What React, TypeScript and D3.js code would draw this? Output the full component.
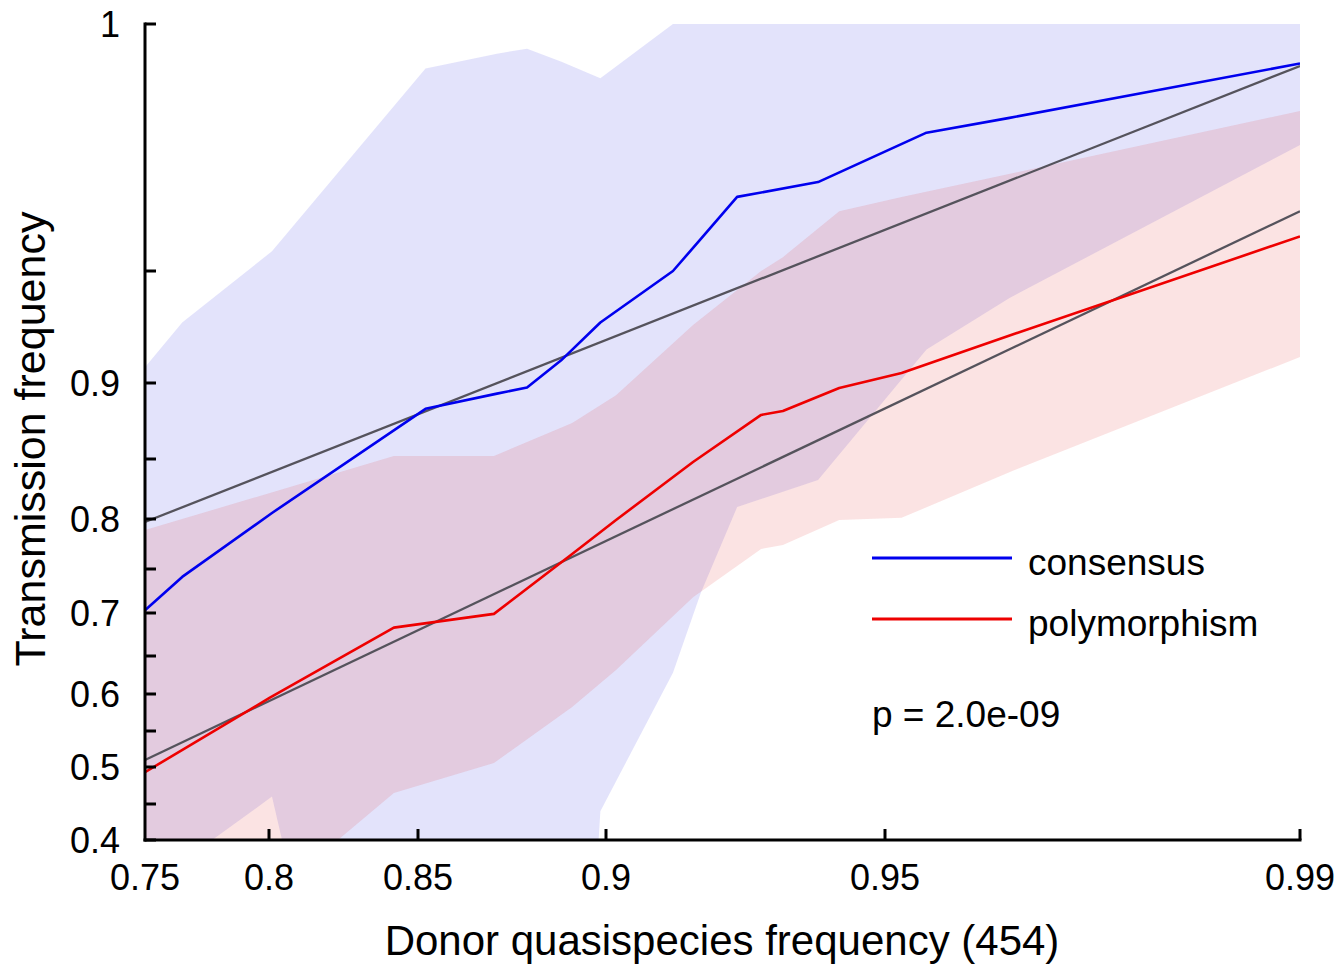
import React from 'react';
import * as d3 from 'd3';

// axis ticks
const xTicks = [0.75, 0.8, 0.85, 0.9, 0.95, 0.99];
const yMajor = [0.4, 0.5, 0.6, 0.7, 0.8, 0.9, 1];
const yMinor = [0.45, 0.55, 0.65, 0.75, 0.85, 0.95];

// consensus (blue): running mean + band
const consX = [0.75, 0.765, 0.801, 0.852, 0.871, 0.879, 0.888, 0.8985, 0.912, 0.917, 0.9235, 0.938, 0.954, 0.962, 0.99];
const consMid = [0.703, 0.741, 0.805, 0.883, 0.893, 0.897, 0.910, 0.927, 0.950, 0.9565, 0.965, 0.968, 0.978, 0.981, 0.992];
const consLo = [0.37, 0.386, 0.46, 0, 0, 0, 0, 0.44, 0.628, 0.723, 0.81, 0.8325, 0.915, 0.938, 0.9755];
const consHi = [0.907, 0.927, 0.954, 0.991, 0.994, 0.995, 0.9924, 0.989, 1, 1, 1, 1, 1, 1, 1];

// polymorphism (red)
const polyX = [0.75, 0.8003, 0.8419, 0.8702, 0.891, 0.9018, 0.9156, 0.9278, 0.9317, 0.9418, 0.9516, 0.9625, 0.99];
const polyMid = [0.493, 0.595, 0.683, 0.699, 0.765, 0.799, 0.8475, 0.879, 0.8816, 0.8967, 0.9045, 0.922, 0.957];
const polyLo = [0.297, 0.363, 0.465, 0.5056, 0.5824, 0.6316, 0.718, 0.77, 0.774, 0.799, 0.801, 0.8408, 0.9116];
const polyHi = [0.789, 0.8217, 0.852, 0.852, 0.8737, 0.892, 0.9259, 0.95, 0.9528, 0.9621, 0.965, 0.9699, 0.9824];

// straight fits, value at x = 0.75 and x = 0.99
const fitX = [0.75, 0.99];
const fitCons = [0.797, 0.9915];
const fitPoly = [0.5097, 0.9621];

const W = 1341;
const H = 966;
const m = { left: 145, top: 24, right: 1300, bottom: 840 };

// the axes are on a stretched (non-linear) scale, so break the scale at each tick
const x = d3.scaleLinear()
  .domain(xTicks)
  .range([0, 124, 273, 461, 740, 1155].map(d => m.left + d));

const y = d3.scaleLinear()
  .domain([0, 0.4, 0.45, 0.5, 0.55, 0.6, 0.65, 0.7, 0.75, 0.8, 0.85, 0.9, 0.95, 1])
  .range([1435, 816, 780, 743, 707, 670, 632, 589, 545, 495, 435, 359, 247, 0].map(d => m.top + d));

const font = '"Liberation Sans", Arial, sans-serif';

export default function App() {
  const band = (xs: number[], lo: number[], hi: number[]) =>
    d3.area<number>()
      .x((_, i) => x(xs[i]))
      .y0((_, i) => y(lo[i]))
      .y1((_, i) => y(hi[i]))(xs) || '';

  const line = (xs: number[], ys: number[]) =>
    d3.line<number>()
      .x((_, i) => x(xs[i]))
      .y(d => y(d))(ys) || '';

  return (
    <svg width={W} height={H} style={{ position: 'absolute', left: 0, top: 0, background: '#fff' }}>
      <defs>
        <clipPath id="plot">
          <rect x={m.left} y={m.top} width={m.right - m.left} height={m.bottom - m.top} />
        </clipPath>
      </defs>

      <g clipPath="url(#plot)">
        <path d={band(consX, consLo, consHi)} fill="rgb(60,60,230)" fillOpacity={0.14} />
        <path d={band(polyX, polyLo, polyHi)} fill="rgb(230,60,60)" fillOpacity={0.14} />

        <path d={line(fitX, fitCons)} fill="none" stroke="#55535c" strokeWidth={2.3} />
        <path d={line(fitX, fitPoly)} fill="none" stroke="#55535c" strokeWidth={2.3} />

        <path d={line(consX, consMid)} fill="none" stroke="#0000ee" strokeWidth={2.6} strokeLinejoin="round" />
        <path d={line(polyX, polyMid)} fill="none" stroke="#ee0000" strokeWidth={2.6} strokeLinejoin="round" />
      </g>

      {/* y axis */}
      <g stroke="#000" strokeWidth={3}>
        <line x1={m.left} x2={m.left} y1={m.top - 1.5} y2={m.bottom + 1.5} />
        {[...yMajor, ...yMinor].map(t => (
          <line key={'yt' + t} x1={m.left} x2={m.left + 11} y1={y(t)} y2={y(t)} />
        ))}
      </g>
      {yMajor.map(t => (
        <text key={'yl' + t} x={120} y={y(t)} dy="0.36em" textAnchor="end"
          fontFamily={font} fontSize={36}>{t === 1 ? '1' : String(t)}</text>
      ))}

      {/* x axis */}
      <g stroke="#000" strokeWidth={3}>
        <line x1={m.left - 1.5} x2={m.right + 1.5} y1={m.bottom} y2={m.bottom} />
        {xTicks.slice(1).map(t => (
          <line key={'xt' + t} x1={x(t)} x2={x(t)} y1={m.bottom} y2={m.bottom - 11} />
        ))}
      </g>
      {xTicks.map(t => (
        <text key={'xl' + t} x={x(t)} y={m.bottom + 50} textAnchor="middle"
          fontFamily={font} fontSize={36}>{String(t)}</text>
      ))}

      <text x={722} y={955} textAnchor="middle" fontFamily={font} fontSize={42}>
        Donor quasispecies frequency (454)
      </text>
      <text transform={`translate(45,${439}) rotate(-90)`} textAnchor="middle"
        fontFamily={font} fontSize={43}>Transmission frequency</text>

      {/* legend */}
      <line x1={872} x2={1012} y1={558} y2={558} stroke="#0000ee" strokeWidth={2.8} />
      <text x={1028} y={575} fontFamily={font} fontSize={37}>consensus</text>
      <line x1={872} x2={1012} y1={619} y2={619} stroke="#ee0000" strokeWidth={2.8} />
      <text x={1028} y={636} fontFamily={font} fontSize={37}>polymorphism</text>
      <text x={872} y={727} fontFamily={font} fontSize={37}>p = 2.0e-09</text>
    </svg>
  );
}
